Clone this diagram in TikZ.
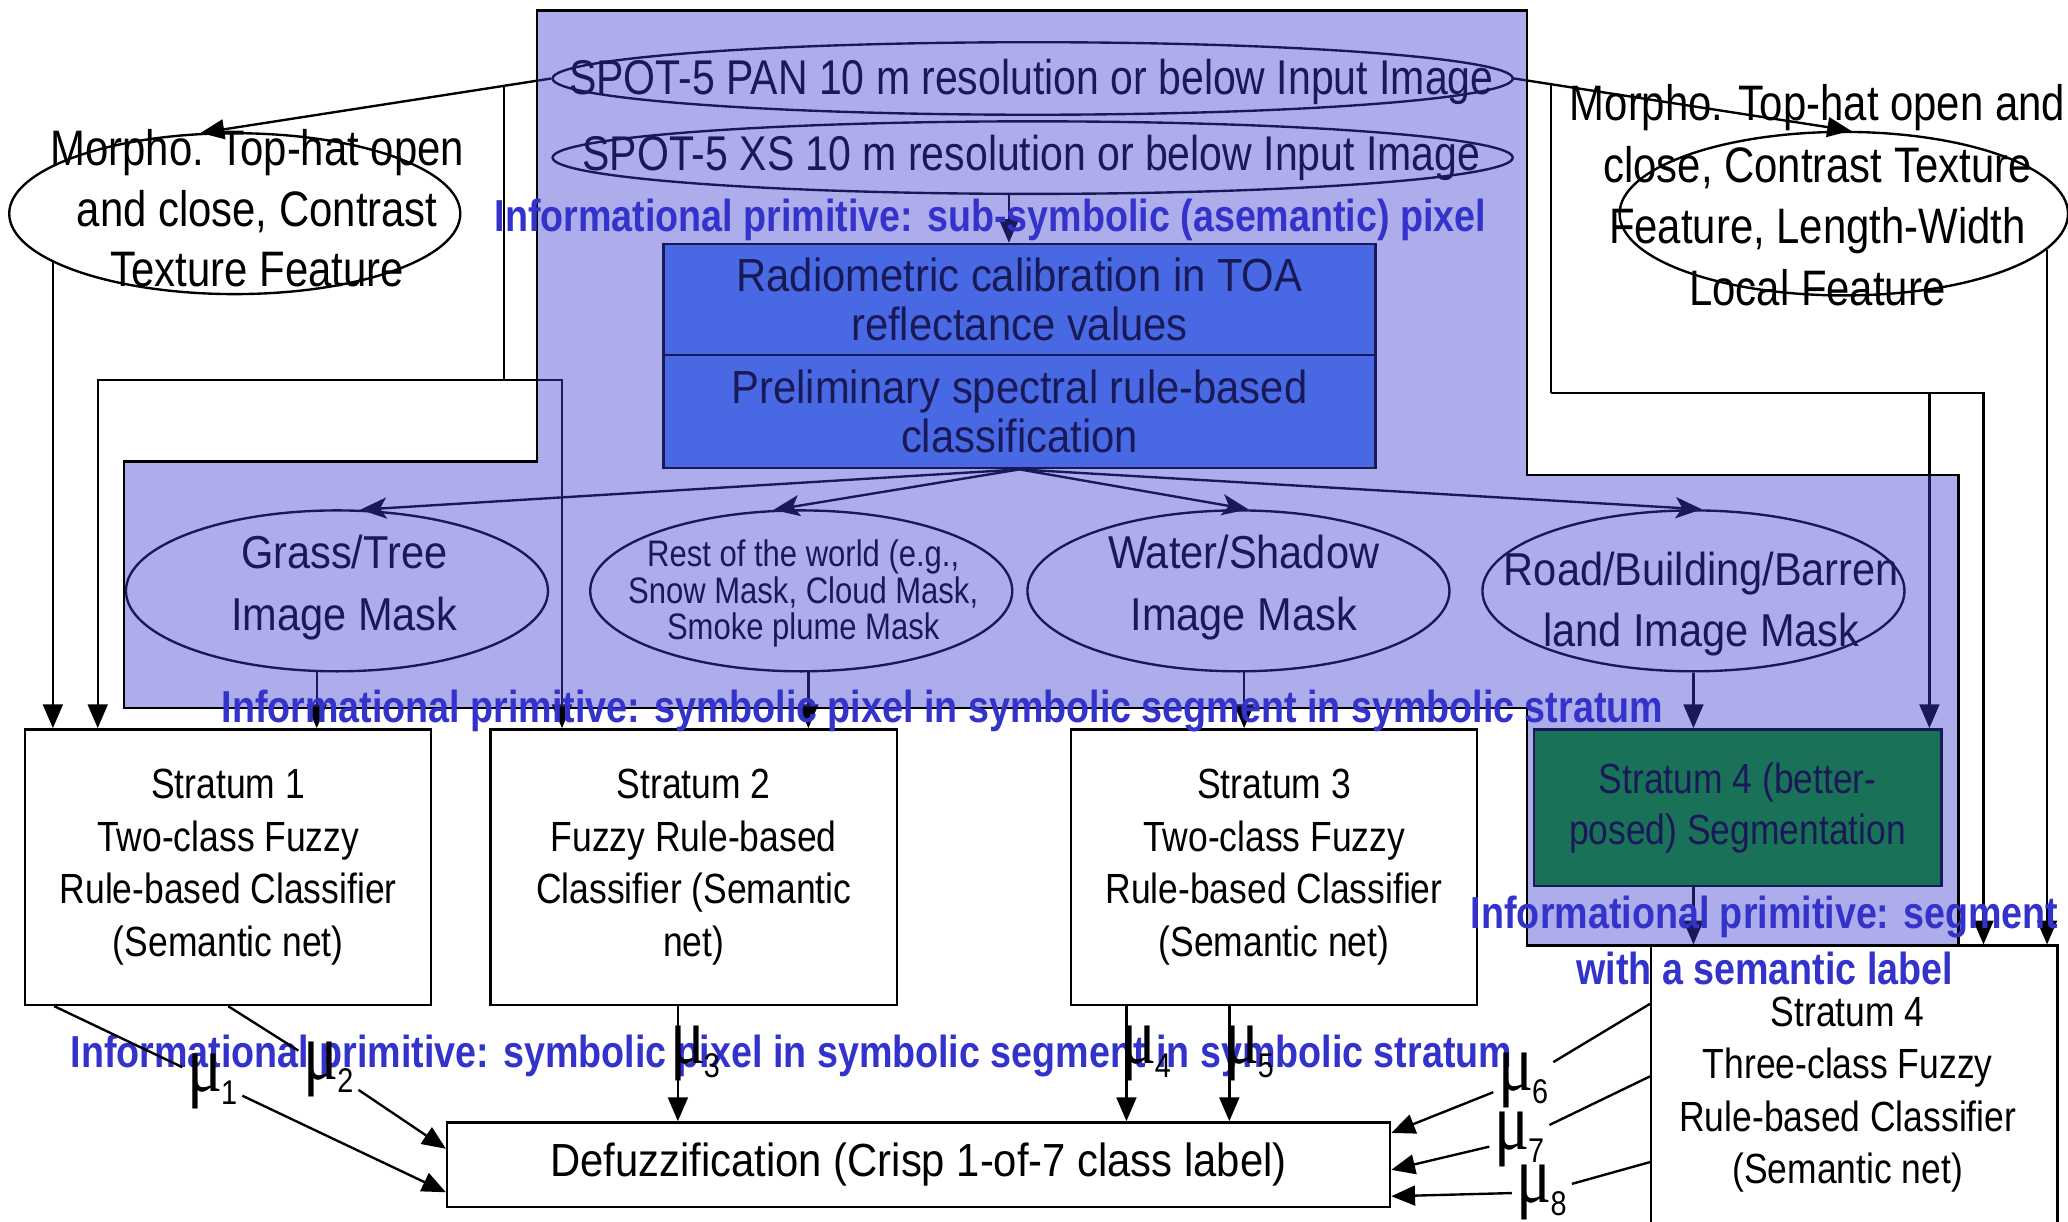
\documentclass[tikz,border=0pt]{standalone}
\usepackage{fontspec}
\usepackage{graphicx}
\setmainfont{Liberation Sans}
\newfontfamily\fa[FakeStretch=0.84]{Liberation Sans}
\newfontfamily\fb[FakeStretch=0.9]{Liberation Sans}
\newfontfamily\fserif{Liberation Serif}
\usetikzlibrary{arrows.meta,shapes.geometric,calc}
\definecolor{ovl}{RGB}{60,60,210}
\definecolor{radfill}{RGB}{81,139,241}
\definecolor{grnfill}{RGB}{0,153,0}
\definecolor{infoblue}{RGB}{51,51,204}
\newcommand\mulab[1]{\scalebox{0.8}[1]{\fserif\fontsize{31}{31}\selectfont μ}\kern-0.5pt{\fa\fontsize{13}{13}\selectfont\raisebox{-5pt}{#1}}}
\begin{document}
\begin{tikzpicture}[x=0.5pt,y=-0.5pt,line width=0.9pt,
  arr/.style={-{Triangle[length=9pt,width=7.5pt]}},
  sarr/.style={-{Stealth[length=10pt,width=8pt,inset=2.5pt]}},
  ell/.style={draw,ellipse,inner sep=0pt},
  box/.style={draw,rectangle,inner sep=0pt,align=center},
  txt/.style={align=center,inner sep=0pt},
  info/.style={txt,text=infoblue,font=\fa\bfseries\fontsize{17}{21}\selectfont},
  strat/.style={box,fill=white,minimum width=154pt,font=\fa\fontsize{16}{19.85}\selectfont},
  mu/.style={inner sep=1.5pt}]
\useasboundingbox (0,0) rectangle (1568,926);
\clip (0,0) rectangle (1568,926);

% input images
\node[ell,minimum width=364pt,minimum height=27.5pt] (pan) at (783,59.5) {};
\node[txt,font=\fa\fontsize{18.5}{22}\selectfont] (pant) at (782,62) {SPOT-5 PAN 10 m resolution or below Input Image};
\node[ell,minimum width=364pt,minimum height=27.5pt] (xs) at (783,119.5) {};
\node[txt,font=\fa\fontsize{18.5}{22}\selectfont] (xst) at (782,120) {SPOT-5 XS 10 m resolution or below Input Image};

% morphological features
\node[ell,minimum width=171pt,minimum height=61pt] (morL) at (178,162) {};
\node[txt,font=\fa\fontsize{18.9}{23}\selectfont] (morLt) at (195,158) {Morpho. Top-hat open\\and close, Contrast\\Texture Feature};
\node[ell,minimum width=170pt,minimum height=62pt] (morR) at (1398,162) {};
\node[txt,font=\fa\fontsize{18.9}{23.3}\selectfont] (morRt) at (1378,148) {Morpho. Top-hat open and\\close, Contrast Texture\\Feature, Length-Width\\Local Feature};

% radiometric calibration
\node[box,fill=radfill,minimum width=270pt,minimum height=42pt,font=\fb\fontsize{17.6}{18.75}\selectfont] (radio) at (773,227) {Radiometric calibration in TOA\\reflectance values};
\node[box,fill=radfill,minimum width=270pt,minimum height=43pt,font=\fb\fontsize{17.6}{18.75}\selectfont] (prelim) at (773,312) {Preliminary spectral rule-based\\classification};

% masks
\node[ell,minimum width=160pt,minimum height=61pt] (grass) at (255.5,448) {};
\node[txt,font=\fb\fontsize{17.5}{23.5}\selectfont] (grasst) at (261,445.5) {Grass/Tree\\Image Mask};
\node[ell,minimum width=160pt,minimum height=61pt] (rest) at (607.5,448) {};
\node[txt,font=\fa\fontsize{14}{14}\selectfont] (restt) at (609,450) {Rest of the world (e.g.,\\Snow Mask, Cloud Mask,\\Smoke plume Mask};
\node[ell,minimum width=160pt,minimum height=61pt] (water) at (939,448) {};
\node[txt,font=\fb\fontsize{17.5}{23.5}\selectfont] (watert) at (943,445.5) {Water/Shadow\\Image Mask};
\node[ell,minimum width=160pt,minimum height=61pt] (road) at (1284,448) {};
\node[txt,font=\fb\fontsize{17.5}{23}\selectfont] (roadt) at (1290,458) {Road/Building/Barren\\land Image Mask};

% strata
\node[strat,minimum height=104.5pt] (s1) at (173,657.5) {Stratum 1\\Two-class Fuzzy\\Rule-based Classifier\\(Semantic net)};
\node[strat,minimum height=104.5pt] (s2) at (526,657.5) {Stratum 2\\Fuzzy Rule-based\\Classifier (Semantic\\net)};
\node[strat,minimum height=104.5pt] (s3) at (966,657.5) {Stratum 3\\Two-class Fuzzy\\Rule-based Classifier\\(Semantic net)};
\node[box,fill=grnfill,minimum width=154.5pt,minimum height=59.5pt,font=\fa\fontsize{16}{19.5}\selectfont] (green) at (1317.5,612.5) {Stratum 4 (better-\\posed) Segmentation};
\node[box,fill=white,minimum width=154pt,minimum height=141.5pt] (s4c) at (1406,858.5) {};
\node[txt,font=\fa\fontsize{16}{19.85}\selectfont] (s4ct) at (1401,830) {Stratum 4\\Three-class Fuzzy\\Rule-based Classifier\\(Semantic net)};
\node[box,fill=white,minimum width=357.5pt,minimum height=32pt,font=\fb\fontsize{17.6}{20}\selectfont] (defuzz) at (696.5,883) {Defuzzification (Crisp 1-of-7 class label)};

% connectors, upper part
\coordinate (yL) at (0,288);
\coordinate (yR) at (0,298);
\draw[arr] (pan.west) -- (morL.113);
\coordinate (brL) at ($(pan.west)!0.135!(morL.113)$);
\coordinate (jL) at (brL |- yL);
\draw (brL) -- (jL);
\draw[arr] (jL) -| ([xshift=28pt]s1.north west);
\draw[arr] (jL) -| ([xshift=27.5pt]s2.north west);
\draw[arr] (morL.195) -- (morL.195 |- s1.north);

\draw[arr] (pan.east) -- (morR.85);
\coordinate (brR) at ($(pan.east)!0.109!(morR.85)$);
\coordinate (jR) at (brR |- yR);
\draw (brR) -- (jR);
\draw[arr] (jR) -| ([xshift=-28.5pt]s4c.north east);
\draw[arr] (jR) -| ([xshift=-5pt]green.north east);
\draw[arr] (morR.350) -- (morR.350 |- s4c.north);

\coordinate (xa) at ([xshift=-4pt]radio.north);
\draw[arr] (xa |- xs.south) -- (xa);

\draw[sarr] (prelim.south) -- (grass.74);
\draw[sarr] (prelim.south) -- (rest.109);
\draw[sarr] (prelim.south) -- (water.83);
\draw[sarr] (prelim.south) -- (road.84);

\draw[arr] (grass.256) -- (grass.256 |- s1.north);
\draw[arr] (rest.275) -- (rest.275 |- s2.north);
\draw[arr] (water.274) -- (water.274 |- s3.north);
\draw[arr] (road.south) -- (road.south |- green.north);
\draw[arr] (road.south |- green.south) -- (road.south |- s4c.north);

% translucent region
\draw[fill=ovl,fill opacity=0.42] (407,8) -- (1158,8) -- (1158,360) -- (1485,360) -- (1485,717) -- (1158,717) -- (1158,537) -- (94,537) -- (94,350) -- (407,350) -- cycle;

% informational primitives
\node[info] (info1) at (751,167) {Informational primitive: sub-symbolic (asemantic) pixel};
\node[info] (info2) at (714.5,539) {Informational primitive: symbolic pixel in symbolic segment in symbolic stratum};
\node[info] (info3) at (600,801) {Informational primitive: symbolic pixel in symbolic segment in symbolic stratum};
\node[info] (info4) at (1338,713) {Informational primitive: segment\\with a semantic label};

% membership outputs
\node[mu] (mu1) at (161,820) {\mulab{1}};
\node[mu] (mu2) at (249,811) {\mulab{2}};
\node[mu] (mu3) at (527,799) {\mulab{3}};
\node[mu] (mu4) at (869,799) {\mulab{4}};
\node[mu] (mu5) at (947,799) {\mulab{5}};
\node[mu] (mu6) at (1155,819) {\mulab{6}};
\node[mu] (mu7) at (1152,864) {\mulab{7}};
\node[mu] (mu8) at (1169,904) {\mulab{8}};

\draw ([xshift=11.5pt]s1.south west) -- (mu1);
\draw[arr] (mu1) -- ([yshift=-10.5pt]defuzz.west);
\draw (s1.south) -- (mu2);
\draw[arr] (mu2) -- ([yshift=6pt]defuzz.west);
\coordinate (m3) at ([xshift=-6pt]s2.south);
\draw[arr] (m3) -- (m3 |- defuzz.north);
\coordinate (m4) at ([xshift=21.5pt]s3.south west);
\draw[arr] (m4) -- (m4 |- defuzz.north);
\coordinate (m5) at ([xshift=60.5pt]s3.south west);
\draw[arr] (m5) -- (m5 |- defuzz.north);
\draw ([yshift=-22.5pt]s4c.north west) -- (mu6);
\draw[arr] (mu6) -- ([yshift=12pt]defuzz.east);
\draw ([yshift=-50pt]s4c.north west) -- (mu7);
\draw[arr] (mu7) -- ([yshift=-2pt]defuzz.east);
\draw ([yshift=-82.5pt]s4c.north west) -- (mu8);
\draw[arr] (mu8) -- ([yshift=-12pt]defuzz.east);
\end{tikzpicture}
\end{document}
